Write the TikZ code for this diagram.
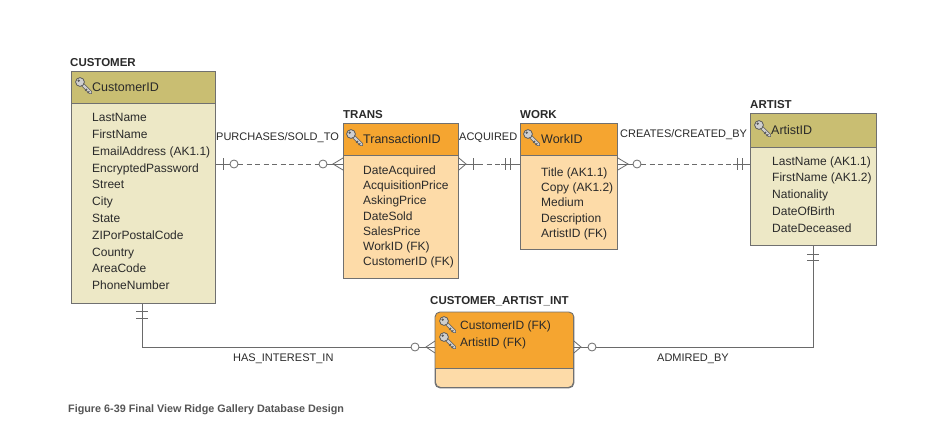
\documentclass[tikz,border=0pt]{standalone}
\usepackage{fontspec}
\setmainfont{Liberation Sans}
\definecolor{olivehd}{HTML}{C9BE72}
\definecolor{olivebd}{HTML}{EDE8C6}
\definecolor{orangehd}{HTML}{F5A530}
\definecolor{orangebd}{HTML}{FDDBA8}
\definecolor{edgegray}{HTML}{707070}
\definecolor{linegray}{HTML}{6A6A6A}
\definecolor{keydark}{HTML}{5A5A5A}
\definecolor{keylight}{HTML}{CFCFCF}
\definecolor{captiongray}{HTML}{555555}
\definecolor{txt}{HTML}{2A2A2A}
\tikzset{
  box/.style={draw=edgegray, line width=0.9pt, inner sep=0pt, anchor=north west},
  entname/.style={font=\fontsize{11.5}{13}\selectfont\bfseries, anchor=base west, inner sep=0pt, text=txt},
  keytext/.style={font=\fontsize{12.5}{14}\selectfont, anchor=west, inner sep=0pt, text=txt},
  attrs/.style={anchor=north west, inner sep=0pt, align=left, text=txt},
  rel/.style={font=\fontsize{11}{12}\selectfont, inner sep=0pt, text=txt},
  conn/.style={draw=linegray, line width=0.8pt},
  dashconn/.style={conn, dash pattern=on 5pt off 3.5pt},
  ring/.style={conn, fill=white},
  keyicon/.pic={
    \draw[line width=3.8pt, keydark, line cap=round] (1.5,1.5) -- (10.5,10.5);
    \draw[line width=2.2pt, keylight, line cap=round] (1.5,1.5) -- (10.5,10.5);
    \draw[line width=1.1pt, keydark] (7.0,7.0) -- (5.3,8.7);
    \draw[line width=1.1pt, keydark] (9.3,9.3) -- (7.6,11.0);
    \filldraw[fill=keylight, draw=keydark, line width=0.8pt] (0,0) circle (4.4);
    \fill[keydark] (-1.3,-1.3) circle (1.3);
  }
}
\begin{document}
\begin{tikzpicture}[x=1pt, y=-1pt]
\useasboundingbox[fill=white] (0,0) rectangle (946,444);

% ---------------- CUSTOMER
\node[entname] (cusN) at (70,66.5) {CUSTOMER};
\node[box, fill=olivehd, minimum width=144pt, minimum height=32pt] (cusH) at (71,71) {};
\node[box, fill=olivebd, minimum width=144pt, minimum height=200pt] (cusB) at (71,103) {};
\pic at (80,82) {keyicon};
\node[keytext] (cusK) at (92,87) {CustomerID};
\node[attrs, font=\fontsize{12}{16.8}\selectfont] (cusA) at (92,113.3)
 {LastName\\FirstName\\EmailAddress (AK1.1)\\EncryptedPassword\\Street\\City\\State\\ZIPorPostalCode\\Country\\AreaCode\\PhoneNumber};

% ---------------- TRANS
\node[entname] (trN) at (343,118.5) {TRANS};
\node[box, fill=orangehd, minimum width=115pt, minimum height=32pt] (trH) at (343,123) {};
\node[box, fill=orangebd, minimum width=115pt, minimum height=123pt] (trB) at (343,155) {};
\pic at (351,134) {keyicon};
\node[keytext] (trK) at (363,139) {TransactionID};
\node[attrs, font=\fontsize{12}{15.3}\selectfont] (trA) at (363,165.3)
 {DateAcquired\\AcquisitionPrice\\AskingPrice\\DateSold\\SalesPrice\\WorkID (FK)\\CustomerID (FK)};

% ---------------- WORK
\node[entname] (wkN) at (520,118.5) {WORK};
\node[box, fill=orangehd, minimum width=97pt, minimum height=32pt] (wkH) at (520,123) {};
\node[box, fill=orangebd, minimum width=97pt, minimum height=94pt] (wkB) at (520,155) {};
\pic at (528,134) {keyicon};
\node[keytext] (wkK) at (541,139) {WorkID};
\node[attrs, font=\fontsize{12}{15.3}\selectfont] (wkA) at (541,167.3)
 {Title (AK1.1)\\Copy (AK1.2)\\Medium\\Description\\ArtistID (FK)};

% ---------------- ARTIST
\node[entname] (arN) at (750,108.5) {ARTIST};
\node[box, fill=olivehd, minimum width=126pt, minimum height=34pt] (arH) at (750,113) {};
\node[box, fill=olivebd, minimum width=126pt, minimum height=98pt] (arB) at (750,147) {};
\pic at (759,125) {keyicon};
\node[keytext] (arK) at (771,130) {ArtistID};
\node[attrs, font=\fontsize{12}{16.8}\selectfont] (arA) at (772,156.3)
 {LastName (AK1.1)\\FirstName (AK1.2)\\Nationality\\DateOfBirth\\DateDeceased};

% ---------------- CUSTOMER_ARTIST_INT
\node[entname] (intN) at (430,304.5) {CUSTOMER\_ARTIST\_INT};
\node[box, fill=orangebd, rounded corners=5pt, minimum width=138pt, minimum height=75pt] (intB) at (435,312) {};
\begin{scope}
  \clip (435,312) rectangle (573,368);
  \fill[orangehd, rounded corners=5pt] (intB.north west) rectangle (intB.south east);
\end{scope}
\draw[edgegray, line width=0.9pt] (intB.west |- 0,368) -- (intB.east |- 0,368);
\draw[edgegray, line width=0.9pt, rounded corners=5pt] (intB.north west) rectangle (intB.south east);
\pic at (444,321) {keyicon};
\pic at (444,337) {keyicon};
\node[keytext, font=\fontsize{12}{14}\selectfont] (intK1) at (460,326) {CustomerID (FK)};
\node[keytext, font=\fontsize{12}{14}\selectfont] (intK2) at (460,343) {ArtistID (FK)};

% ---------------- relationship labels
\node[rel, anchor=base west] (l1) at (216,140) {PURCHASES/SOLD\_TO};
\node[rel, anchor=base west] (l2) at (459,140) {ACQUIRED};
\node[rel, anchor=base west] (l3) at (620,137) {CREATES/CREATED\_BY};
\node[rel, anchor=base west] (l4) at (233,361) {HAS\_INTEREST\_IN};
\node[rel, anchor=base west] (l5) at (657,361) {ADMIRED\_BY};

% ---------------- CUSTOMER -- TRANS
\draw[conn] (cusB.east |- 0,164) -- (230,164);
\draw[conn] (223,158) -- (223,170);
\draw[ring] (234,164) circle (4);
\draw[dashconn] (238,164) -- (319,164);
\draw[ring] (323,164) circle (4);
\draw[conn] (327,164) -- (trB.west |- 0,164);
\draw[conn] (trB.west |- 0,158) -- (333,164) -- (trB.west |- 0,170);

% ---------------- TRANS -- WORK
\draw[conn] (trB.east |- 0,158) -- (466,164) -- (trB.east |- 0,170);
\draw[conn] (trB.east |- 0,164) -- (478,164);
\draw[conn] (473,158) -- (473,170);
\draw[dashconn] (478,164) -- (501,164);
\draw[conn] (501,164) -- (wkB.west |- 0,164);
\draw[conn] (505,158) -- (505,170);
\draw[conn] (510,158) -- (510,170);

% ---------------- WORK -- ARTIST
\draw[conn] (wkB.east |- 0,158) -- (628,164) -- (wkB.east |- 0,170);
\draw[conn] (wkB.east |- 0,164) -- (633,164);
\draw[ring] (637,164) circle (4);
\draw[dashconn] (641,164) -- (733,164);
\draw[conn] (733,164) -- (arB.west |- 0,164);
\draw[conn] (737,158) -- (737,170);
\draw[conn] (742,158) -- (742,170);

% ---------------- CUSTOMER -- CUSTOMER_ARTIST_INT
\draw[conn] (cusB.south -| 142,0) -- (142,347) -- (411,347);
\draw[conn] (136,311) -- (148,311);
\draw[conn] (136,318) -- (148,318);
\draw[ring] (415,347) circle (4);
\draw[conn] (419,347) -- (intB.west |- 0,347);
\draw[conn] (intB.west |- 0,341) -- (426,347) -- (intB.west |- 0,353);

% ---------------- ARTIST -- CUSTOMER_ARTIST_INT
\draw[conn] (intB.east |- 0,341) -- (581,347) -- (intB.east |- 0,353);
\draw[conn] (intB.east |- 0,347) -- (588,347);
\draw[ring] (592,347) circle (4);
\draw[conn] (596,347) -- (813,347) -- (arB.south -| 813,0);
\draw[conn] (807,254) -- (819,254);
\draw[conn] (807,260) -- (819,260);

% ---------------- caption
\node[anchor=base west, inner sep=0pt, font=\fontsize{10.8}{12}\selectfont\bfseries, text=captiongray] (cap) at (68,412) {Figure 6-39 Final View Ridge Gallery Database Design};
\end{tikzpicture}
\end{document}
